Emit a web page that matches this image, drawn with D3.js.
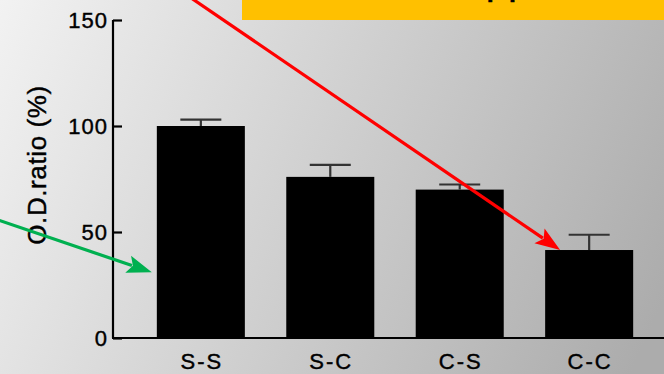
<!DOCTYPE html>
<html>
<head>
<meta charset="utf-8">
<script src="https://cdn.jsdelivr.net/npm/d3@7"></script>
<style>
  html, body { margin: 0; padding: 0; overflow: hidden; }
  svg { display: block; }
  text { font-family: "Liberation Sans", Arial, sans-serif; fill: #000; stroke: #000; stroke-width: 0.4px; }
</style>
</head>
<body>
<svg id="chart" width="664" height="374"></svg>
<script>
// Optical density ratio per group (mean and error)
const categories = ["S-S", "S-C", "C-S", "C-C"];
const values = [100, 76, 70, 41.5];
const errors = [3, 5.7, 2.4, 7.2];
const yTicks = [0, 50, 100, 150];
const yLabel = "O.D.ratio (%)";
const bannerText = "Approach";

const W = 664, H = 374;
const svg = d3.select("#chart");

// Background gradient
const defs = svg.append("defs");
const grad = defs.append("linearGradient")
  .attr("id", "bg").attr("gradientUnits", "userSpaceOnUse")
  .attr("x1", 0).attr("y1", 0).attr("x2", 664).attr("y2", 300);
grad.append("stop").attr("offset", 0).attr("stop-color", "#f2f2f2");
grad.append("stop").attr("offset", 1).attr("stop-color", "#acacac");
svg.append("rect").attr("width", W).attr("height", H).attr("fill", "url(#bg)");

// Scales
const x = d3.scaleBand().domain(categories).range([118, 672])
  .paddingInner(0.32).paddingOuter(0.3);
const y = d3.scaleLinear().domain([0, 150]).range([338, 20]);

const g = svg.append("g");

// Bars
g.selectAll("rect.bar").data(categories).join("rect")
  .attr("class", "bar")
  .attr("x", d => x(d))
  .attr("width", x.bandwidth())
  .attr("y", (d, i) => y(values[i]))
  .attr("height", (d, i) => y(0) - y(values[i]))
  .attr("fill", "#000");

// Error bars (upper only)
const capW = 41;
const eb = g.selectAll("g.err").data(categories).join("g").attr("class", "err");
eb.append("line")
  .attr("x1", d => x(d) + x.bandwidth() / 2).attr("x2", d => x(d) + x.bandwidth() / 2)
  .attr("y1", (d, i) => y(values[i])).attr("y2", (d, i) => y(values[i] + errors[i]))
  .attr("stroke", "#333").attr("stroke-width", 2.2);
eb.append("line")
  .attr("x1", d => x(d) + x.bandwidth() / 2 - capW / 2).attr("x2", d => x(d) + x.bandwidth() / 2 + capW / 2)
  .attr("y1", (d, i) => y(values[i] + errors[i])).attr("y2", (d, i) => y(values[i] + errors[i]))
  .attr("stroke", "#333").attr("stroke-width", 2.2);

// Y axis with inward ticks
const yAxis = d3.axisLeft(y).tickValues(yTicks).tickSize(-9).tickPadding(5).tickFormat(d3.format("d"));
const ya = svg.append("g").attr("transform", "translate(113,0)").call(yAxis);
ya.select(".domain").attr("stroke", "#000").attr("stroke-width", 2.2)
  .attr("d", `M0,${y(150)}V${y(0)}`);
ya.selectAll(".tick line").attr("stroke", "#000").attr("stroke-width", 2.2);
ya.selectAll(".tick text")
  .style("font-size", "22px").style("letter-spacing", "1px")
  .style("font-family", "'Liberation Sans', Arial, sans-serif")
  .attr("fill", "#000").attr("stroke", "#000").attr("stroke-width", 0.4);

// X baseline and category labels
svg.append("line").attr("x1", 112).attr("x2", W).attr("y1", y(0)).attr("y2", y(0))
  .attr("stroke", "#000").attr("stroke-width", 2.2);
svg.selectAll("text.cat").data(categories).join("text")
  .attr("class", "cat")
  .attr("x", d => x(d) + x.bandwidth() / 2 + 1)
  .attr("y", 369)
  .attr("text-anchor", "middle")
  .style("font-size", "22px").style("letter-spacing", "2px")
  .text(d => d);

// Y axis title
svg.append("text")
  .attr("transform", "translate(46,165) rotate(-90)")
  .attr("text-anchor", "middle")
  .style("font-size", "26px").style("letter-spacing", "0.6px")
  .text(yLabel);

// Banner at top right
svg.append("rect").attr("x", 242).attr("y", 0).attr("width", W - 242).attr("height", 20)
  .attr("fill", "#ffc000");
svg.append("text").attr("x", 459).attr("y", -6.5)
  .style("font-size", "40px").text(bannerText);

// Annotation arrows, anchored to bars through the scales
function arrow(x0, y0, x1, y1, color) {
  const dx = x1 - x0, dy = y1 - y0, len = Math.hypot(dx, dy);
  const ux = dx / len, uy = dy / len;
  const headL = 25, headW = 9;
  const bx = x1 - ux * headL, by = y1 - uy * headL;
  svg.append("line").attr("x1", x0).attr("y1", y0)
    .attr("x2", bx + ux * 4).attr("y2", by + uy * 4)
    .attr("stroke", color).attr("stroke-width", 3.2);
  svg.append("path")
    .attr("d", `M${x1},${y1}L${bx - uy * headW},${by + ux * headW}L${bx + ux * 5},${by + uy * 5}L${bx + uy * headW},${by - ux * headW}Z`)
    .attr("fill", color);
}
const ccX = x("C-C") + 15, ccY = y(values[3]);
arrow(ccX - (ccY + 8) / 0.683, -8, ccX, ccY, "#ff0000");
arrow(-2, 220, x("S-S") - 5, y(31), "#00b050");
</script>
</body>
</html>
